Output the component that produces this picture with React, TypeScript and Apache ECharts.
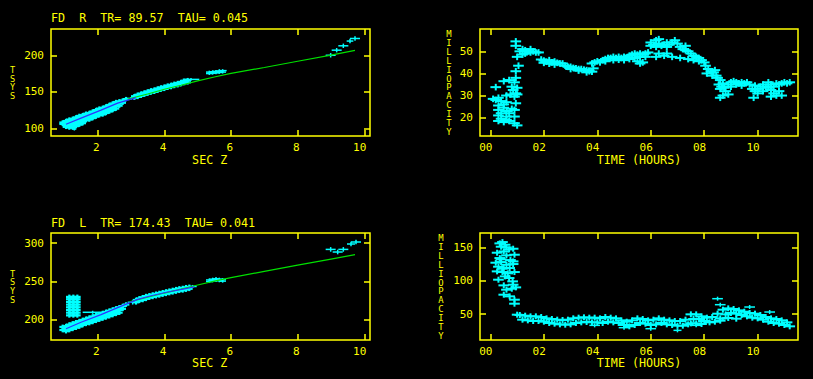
import React, { useEffect, useRef } from "react";
import * as echarts from "echarts";

const YELLOW = "#ffff00";
const CYAN = "#00ffff";
const GREEN = "#00e000";
const BLUE = "#3030ff";
const FONT = '"DejaVu Sans Mono", "Liberation Mono", monospace';

const titleR = "FD  R  TR= 89.57  TAU= 0.045";
const titleL = "FD  L  TR= 174.43  TAU= 0.041";
const xNameSec = "SEC Z";
const xNameTime = "TIME (HOURS)";
const yNameTsys = "TSYS";
const yNameOpac = "MILLIOPACITY";

const secZTicks = [2, 4, 6, 8, 10];
const timeTicks = [0, 2, 4, 6, 8, 10];
const tsysRTicks = [100, 150, 200];
const opacRTicks = [20, 30, 40, 50];
const tsysLTicks = [200, 250, 300];
const opacLTicks = [50, 100, 150];

// TSYS (R) vs SEC Z : dense band [secz, tsys]
const tsysRBand = [
  [0.95, 108], [0.95, 106],
  [1.05, 110], [1.05, 107], [1.05, 104], [1.05, 102],
  [1.15, 112], [1.15, 109], [1.15, 106], [1.15, 103], [1.15, 101],
  [1.25, 113], [1.25, 110], [1.25, 107], [1.25, 104], [1.25, 101],
  [1.35, 115], [1.35, 112], [1.35, 109], [1.35, 106], [1.35, 103],
  [1.45, 117], [1.45, 114], [1.45, 111], [1.45, 108], [1.45, 105],
  [1.55, 118], [1.55, 115], [1.55, 112], [1.55, 109], [1.55, 107],
  [1.65, 120], [1.65, 117], [1.65, 114], [1.65, 111],
  [1.75, 121], [1.75, 118], [1.75, 115], [1.75, 112],
  [1.85, 123], [1.85, 120], [1.85, 117], [1.85, 114],
  [1.95, 125], [1.95, 122], [1.95, 119], [1.95, 116],
  [2.05, 127], [2.05, 124], [2.05, 121], [2.05, 118],
  [2.15, 128], [2.15, 125], [2.15, 122], [2.15, 119],
  [2.25, 130], [2.25, 127], [2.25, 124], [2.25, 121],
  [2.35, 132], [2.35, 129], [2.35, 126], [2.35, 123],
  [2.45, 134], [2.45, 131], [2.45, 128], [2.45, 125],
  [2.55, 136], [2.55, 133], [2.55, 130], [2.55, 127],
  [2.65, 137], [2.65, 134], [2.65, 131],
  [2.75, 138], [2.75, 135], [2.85, 140],
  [3.1, 144], [3.1, 142], [3.2, 146], [3.2, 143], [3.3, 147.5], [3.3, 144.5],
  [3.4, 149], [3.4, 146], [3.5, 150.5], [3.5, 147.5], [3.6, 152], [3.6, 149],
  [3.7, 153], [3.7, 150], [3.8, 154.5], [3.8, 151.5], [3.9, 156], [3.9, 153],
  [4.0, 157], [4.0, 154], [4.1, 158.5], [4.1, 155.5], [4.2, 159.5], [4.2, 156.5],
  [4.3, 161], [4.3, 158], [4.4, 162], [4.4, 159], [4.5, 163.5], [4.5, 160.5],
  [4.6, 165], [4.6, 162], [4.7, 166], [4.7, 163],
];
const tsysRCross = [
  [1.3, 99, 0.06, 2], [3.0, 141, 0.15, 2], [4.8, 167, 0.25, 2],
  [5.35, 177, 0.1, 2], [5.35, 175, 0.1, 2], [5.45, 177.5, 0.1, 2], [5.45, 175.5, 0.1, 2],
  [5.55, 178, 0.1, 2], [5.55, 176, 0.1, 2], [5.65, 178.5, 0.12, 2.5], [5.65, 176.5, 0.1, 2],
  [5.75, 179, 0.12, 2], [5.75, 177, 0.1, 2],
  [8.99, 200, 0.15, 3], [9.17, 207, 0.15, 3], [9.37, 213, 0.15, 3],
  [9.57, 219.5, 0.1, 3], [9.72, 223, 0.15, 3],
];
const fitRGreen = [
  [2.9, 140], [3.5, 147], [4.0, 153.5], [4.5, 159], [5.0, 165], [5.5, 170.3],
  [6.0, 175.3], [7.0, 183.3], [8.0, 191.8], [9.0, 200.3], [9.72, 206.8],
];
const fitRBlue = [[1.05, 105.5], [1.5, 114], [2.1, 125], [2.6, 134.5], [3.15, 142]];

// TSYS (L) vs SEC Z
const tsysLBand = [
  [1.15, 206], [1.15, 209.5], [1.15, 213], [1.15, 216.5], [1.15, 220], [1.15, 223.5], [1.15, 227], [1.15, 230],
  [1.27, 206], [1.27, 209.5], [1.27, 213], [1.27, 216.5], [1.27, 220], [1.27, 223.5], [1.27, 227], [1.27, 230],
  [1.39, 206], [1.39, 209.5], [1.39, 213], [1.39, 216.5], [1.39, 220], [1.39, 223.5], [1.39, 227], [1.39, 230],
  [0.95, 191], [0.95, 187],
  [1.05, 192], [1.05, 188.5], [1.05, 185.5],
  [1.15, 194], [1.15, 190.5], [1.15, 187],
  [1.25, 195.5], [1.25, 192], [1.25, 188.5],
  [1.35, 197], [1.35, 193.5], [1.35, 190],
  [1.45, 198.5], [1.45, 195], [1.45, 191.5],
  [1.55, 200], [1.55, 196.5], [1.55, 193.5],
  [1.65, 201.5], [1.65, 198], [1.65, 195],
  [1.75, 203], [1.75, 199.5], [1.75, 196],
  [1.85, 204.5], [1.85, 201], [1.85, 197.5],
  [1.95, 206], [1.95, 202.5], [1.95, 199],
  [2.05, 207.5], [2.05, 204], [2.05, 200.5],
  [2.15, 209], [2.15, 205.5], [2.15, 202],
  [2.25, 210.5], [2.25, 207], [2.25, 203.5],
  [2.35, 212], [2.35, 208.5], [2.35, 205],
  [2.45, 213.5], [2.45, 210], [2.45, 206.5],
  [2.55, 215], [2.55, 211.5], [2.55, 208],
  [2.65, 216.5], [2.65, 213], [2.65, 209.5],
  [2.75, 218], [2.75, 214.5], [2.85, 220],
  [3.15, 226], [3.15, 223], [3.25, 228], [3.25, 225], [3.35, 229.5], [3.35, 226],
  [3.45, 231], [3.45, 227.5], [3.55, 232], [3.55, 229], [3.65, 233], [3.65, 230],
  [3.75, 234], [3.75, 231], [3.85, 235], [3.85, 232], [3.95, 236], [3.95, 233],
  [4.05, 237], [4.05, 234], [4.15, 238], [4.15, 235], [4.25, 239], [4.25, 236],
  [4.35, 240], [4.35, 237], [4.45, 241], [4.45, 238], [4.55, 241.5], [4.55, 238.5],
  [4.65, 242.5], [4.65, 239.5], [4.75, 243], [4.75, 240.5],
];
const tsysLCross = [
  [1.85, 210, 0.3, 2], [3.05, 223, 0.15, 3], [4.85, 243.5, 0.12, 2],
  [5.35, 252, 0.1, 2], [5.35, 250, 0.1, 2], [5.45, 253, 0.1, 2], [5.45, 251, 0.1, 2],
  [5.55, 253.5, 0.1, 2.5], [5.55, 251.5, 0.1, 2], [5.65, 253, 0.1, 2], [5.65, 251, 0.1, 2],
  [5.75, 252.5, 0.1, 2], [5.75, 250.5, 0.1, 2],
  [8.99, 291.7, 0.15, 3], [9.2, 288.3, 0.15, 3], [9.37, 291.7, 0.15, 3],
  [9.6, 298.7, 0.12, 3], [9.75, 301.3, 0.15, 3],
];
const fitLGreen = [
  [2.95, 223.5], [3.5, 229.5], [4.0, 235], [4.5, 240], [5.0, 245.5], [5.5, 250.5],
  [6.0, 255], [7.0, 263.2], [8.0, 271.2], [9.0, 279.1], [9.72, 284.8],
];
const fitLBlue = [
  [1.05, 188.7], [1.5, 197], [2.1, 207], [2.6, 216], [3.2, 226.8], [3.6, 231.5],
  [4.1, 236.4], [4.6, 240.5], [4.9, 243],
];

// Milliopacity (R) vs time
const opacR = [
  [0.2, 33.8], [0.5, 36.5], [0.7, 37], [0.95, 38], [0.9, 36], [0.8, 34], [0.85, 32.5],
  [0.95, 31], [0.75, 30.5], [0.9, 29.5], [1.0, 30.5], [0.6, 30], [0.3, 29], [0.1, 28.5],
  [0.2, 28], [0.4, 27.5], [0.6, 27], [0.5, 26], [0.3, 25.5], [0.5, 24.5], [0.8, 24],
  [0.3, 23.5], [0.6, 23], [0.9, 23.5], [0.4, 22], [0.7, 22], [0.3, 21], [0.6, 20.5],
  [0.9, 20.5], [0.4, 19.5], [0.6, 19], [0.3, 18.5], [0.5, 18], [0.7, 18.5], [0.9, 17.5],
  [1.0, 16.5], [0.95, 26.5], [1.0, 33.5], [0.95, 41], [1.05, 43.5], [0.95, 52.5],
  [0.95, 54.5], [1.0, 47.5],
  [1.1, 50], [1.2, 51], [1.3, 50.5], [1.4, 50], [1.5, 51], [1.6, 50], [1.7, 49.5],
  [1.8, 49.5], [1.3, 49], [1.5, 49.5], [1.2, 48.5],
  [1.9, 46.3], [2.0, 45.8], [2.1, 45.3], [2.2, 46], [2.3, 45], [2.4, 45.4], [2.5, 44.8],
  [2.6, 44.5], [2.0, 44.8], [2.2, 44.4], [2.4, 44], [2.7, 44.5],
  [2.8, 43.5], [2.9, 43], [3.0, 43], [3.1, 42.5], [3.2, 42.3], [3.3, 42], [3.4, 42],
  [3.5, 41.7], [3.6, 41.5], [3.7, 41], [3.8, 40.8], [3.85, 42.3], [3.0, 42], [3.3, 41.3],
  [3.6, 40.5],
  [3.8, 44.5], [3.9, 45], [4.0, 45.5], [4.1, 45], [4.2, 46], [4.3, 46.5], [4.4, 47],
  [4.5, 47], [4.6, 47.5], [4.7, 47], [4.8, 47.5], [4.9, 47], [5.0, 47.5], [5.1, 47.2],
  [5.2, 48], [5.3, 48.5], [5.4, 49], [5.5, 48.5], [5.6, 49], [5.7, 48.5], [5.8, 49],
  [5.9, 49.5], [4.3, 45.5], [4.6, 46], [5.0, 46], [5.4, 47], [5.8, 47.5], [5.7, 45],
  [5.6, 44.5], [5.5, 45.5], [4.8, 46.2], [5.2, 46.5], [5.6, 47.5],
  [6.0, 54], [6.1, 53], [6.2, 55], [6.3, 53.5], [6.4, 52.5], [6.5, 53], [6.6, 52],
  [6.7, 53], [6.8, 54], [6.9, 55], [7.0, 53.5], [7.1, 52], [6.2, 52], [6.6, 54],
  [6.3, 55.5], [6.0, 52.5],
  [6.2, 47.5], [6.5, 48], [6.8, 47.5], [7.1, 47], [6.3, 49], [6.6, 49],
  [7.2, 51], [7.3, 50.5], [7.4, 50], [7.5, 49], [7.6, 48], [7.7, 47.5], [7.8, 47],
  [7.9, 46], [8.0, 45], [7.4, 46.5], [7.6, 46], [7.8, 45.5], [7.3, 52.5],
  [8.05, 43.5], [8.15, 42], [8.25, 41], [8.35, 40.5], [8.45, 39], [8.5, 38], [8.1, 40],
  [8.3, 39], [8.6, 37], [8.4, 41.5],
  [8.55, 35], [8.65, 34], [8.75, 33.5], [8.7, 35.5], [8.6, 33], [8.7, 30], [8.9, 30.5],
  [8.6, 29], [8.8, 32],
  [8.9, 35], [9.0, 36], [9.1, 36.5], [9.2, 36], [9.3, 35.5], [9.4, 36], [9.5, 35.5],
  [9.6, 36], [9.7, 35], [9.0, 34], [9.4, 34.5], [9.2, 35],
  [9.8, 33], [9.9, 32], [10.0, 33], [10.1, 34], [10.2, 35], [10.3, 34], [10.4, 33.5],
  [10.5, 35], [10.6, 34], [10.7, 35.5], [10.8, 35], [10.9, 35.5], [11.0, 36],
  [11.1, 35.5], [11.2, 36], [9.9, 34.5], [10.2, 32], [10.5, 32.5], [10.8, 32],
  [10.6, 31], [10.0, 31], [10.4, 36], [10.7, 30], [9.85, 29], [10.5, 29.5], [10.9, 30],
];

// Milliopacity (L) vs time
const opacL = [
  [0.35, 156], [0.45, 158], [0.55, 154], [0.4, 151], [0.6, 150], [0.7, 147], [0.85, 148],
  [0.25, 142], [0.5, 144], [0.35, 134], [0.6, 138], [0.9, 139], [0.2, 127], [0.4, 128],
  [0.6, 124], [0.3, 121], [0.5, 119], [0.72, 119], [0.85, 125], [0.25, 114], [0.45, 113],
  [0.65, 111], [0.9, 113], [0.3, 101.5], [0.55, 106.5], [0.83, 99], [0.5, 93], [0.85, 94],
  [0.6, 86.5], [0.8, 88], [0.95, 90], [0.5, 79], [0.72, 76.5], [0.9, 71.5], [0.9, 65.5],
  [0.4, 132], [0.75, 131], [0.85, 129], [0.45, 118], [0.7, 104], [1.0, 49],
  [1.1, 48.5], [1.2, 41.5], [1.3, 47.5], [1.4, 40.5], [1.5, 46.5], [1.6, 39.5],
  [1.7, 46.5], [1.8, 39.5], [1.9, 45.5], [2.0, 38.5], [2.1, 43.5], [2.2, 36.5],
  [2.3, 42.5], [2.4, 35.5], [2.5, 41.5], [2.6, 34.5], [2.7, 41], [2.8, 34],
  [2.9, 41.5], [3.0, 34.5], [3.1, 43.5], [3.2, 36.5], [3.3, 44.5], [3.4, 37.5],
  [3.5, 45], [3.6, 38], [3.7, 44.5], [3.8, 37.5], [3.9, 44.5], [4.0, 37.5],
  [4.1, 43.5], [4.2, 36.5], [4.3, 45.5], [4.4, 38.5], [4.5, 44.5], [4.6, 37.5],
  [4.7, 43.5], [4.8, 36.5], [4.9, 40.5], [5.0, 33.5], [5.1, 38.5], [5.2, 31.5],
  [5.3, 40.5], [5.4, 33.5], [5.5, 43.5], [5.6, 36.5], [5.7, 42.5], [5.8, 35.5],
  [5.9, 40.5], [6.0, 33.5], [6.1, 41.5], [6.2, 34.5], [6.3, 43.5], [6.4, 36.5],
  [6.5, 41.5], [6.6, 34.5], [6.7, 40.5], [6.8, 33.5], [6.9, 39.5], [7.0, 32.5],
  [7.1, 39.5], [7.2, 32.5], [7.3, 41.5], [7.4, 34.5], [7.5, 49.5], [7.6, 42.5],
  [7.7, 49.5], [7.8, 42.5], [7.9, 46.5], [8.0, 39.5], [8.1, 44.5], [8.2, 37.5],
  [8.3, 45.5], [8.4, 38.5], [8.5, 50.5], [8.6, 43.5], [8.7, 56.5], [8.8, 49.5],
  [8.9, 58.5], [9.0, 51.5], [9.1, 57.5], [9.2, 50.5], [9.3, 55.5], [9.4, 48.5],
  [9.5, 53.5], [9.6, 46.5], [9.7, 51.5], [9.8, 44.5], [9.9, 50.5], [10.0, 43.5],
  [10.1, 48.5], [10.2, 41.5], [10.3, 45.5], [10.4, 38.5], [10.5, 43.5], [10.6, 36.5],
  [10.7, 42.5], [10.8, 35.5], [10.9, 40.5], [11.0, 33.5], [11.1, 37.5], [11.2, 31.5],
  [7.5, 36], [7.7, 36], [7.9, 35], [8.6, 40], [8.9, 44], [9.2, 43],
];
const opacLCross = [
  [8.5, 73, 0.2, 3], [8.6, 64, 0.2, 3], [9.7, 60.5, 0.2, 3], [10.45, 53, 0.2, 3],
  [6.0, 28, 0.2, 3], [7.0, 25.5, 0.15, 3], [7.7, 33, 0.2, 3], [8.7, 43, 0.2, 3],
  [3.9, 33, 0.2, 3], [5.0, 29.5, 0.2, 3],
];

const withErr = (pts: number[][], dx: number, dy: number) =>
  pts.map((p) => (p.length >= 4 ? p : [p[0], p[1], dx, dy]));

const makeCrossRender = (lineWidth: number) => (params: any, api: any) => {
  const x = api.value(0);
  const y = api.value(1);
  const dx = api.value(2);
  const dy = api.value(3);
  const a = api.coord([x - dx, y]);
  const b = api.coord([x + dx, y]);
  const c = api.coord([x, y - dy]);
  const d = api.coord([x, y + dy]);
  const style = { stroke: CYAN, lineWidth, fill: null };
  return {
    type: "group",
    children: [
      { type: "line", shape: { x1: a[0], y1: a[1], x2: b[0], y2: b[1] }, style },
      { type: "line", shape: { x1: c[0], y1: c[1], x2: d[0], y2: d[1] }, style },
    ],
  };
};

const tickStyle = { color: YELLOW, width: 1.5 };

function xAxes(g: number, min: number, max: number, ticks: number[], fmt: (v: number) => string) {
  return [
    {
      type: "value", gridIndex: g, min, max, position: "bottom",
      axisLine: { show: false, onZero: false }, splitLine: { show: false },
      axisTick: { show: true, inside: true, length: 6, customValues: ticks, lineStyle: tickStyle },
      axisLabel: {
        show: true, customValues: ticks, color: YELLOW, fontFamily: FONT, fontSize: 11,
        margin: 5.5, align: "right", padding: [0, -2, 0, 0], formatter: fmt,
      },
    },
    {
      type: "value", gridIndex: g, min, max, position: "top",
      axisLine: { show: false, onZero: false }, splitLine: { show: false },
      axisTick: { show: true, inside: true, length: 6, customValues: ticks, lineStyle: tickStyle },
      axisLabel: { show: false },
    },
  ];
}
function yAxes(g: number, min: number, max: number, ticks: number[]) {
  return [
    {
      type: "value", gridIndex: g, min, max, position: "left",
      axisLine: { show: false, onZero: false }, splitLine: { show: false },
      axisTick: { show: true, inside: true, length: 6, customValues: ticks, lineStyle: tickStyle },
      axisLabel: {
        show: true, customValues: ticks, color: YELLOW, fontFamily: FONT, fontSize: 11, margin: 7,
      },
    },
    {
      type: "value", gridIndex: g, min, max, position: "right",
      axisLine: { show: false, onZero: false }, splitLine: { show: false },
      axisTick: { show: true, inside: true, length: 6, customValues: ticks, lineStyle: tickStyle },
      axisLabel: { show: false },
    },
  ];
}

const txt = (x: number, y: number, text: string, align: string, size: number, lh?: number) => ({
  type: "text",
  x,
  y,
  style: {
    text,
    fill: YELLOW,
    fontFamily: FONT,
    fontSize: size,
    align,
    verticalAlign: "middle",
    lineHeight: lh,
  },
});

export default function App() {
  const ref = useRef<HTMLDivElement>(null);
  useEffect(() => {
    if (!ref.current) return;
    const chart = echarts.init(ref.current, null, { renderer: "svg" });
    const secFmt = (v: number) => String(v);
    const timeFmt = (v: number) => String(v).padStart(2, "0");
    const gridBase = { show: true, borderColor: YELLOW, borderWidth: 1.5, backgroundColor: "transparent" };
    const cross = (xi: number, data: number[][], lw: number) => ({
      type: "custom", xAxisIndex: xi, yAxisIndex: xi, data, renderItem: makeCrossRender(lw),
      encode: { x: 0, y: 1 }, silent: true, z: 2,
    });
    const line = (xi: number, data: number[][], color: string, z: number) => ({
      type: "line", xAxisIndex: xi, yAxisIndex: xi, data, showSymbol: false, symbol: "none",
      lineStyle: { color, width: 1.2 }, silent: true, z,
    });
    chart.setOption({
      animation: false,
      backgroundColor: "#000000",
      grid: [
        { ...gridBase, left: 51, top: 29, width: 319, height: 107 },
        { ...gridBase, left: 480, top: 29, width: 318, height: 107 },
        { ...gridBase, left: 51, top: 233, width: 319, height: 107 },
        { ...gridBase, left: 480, top: 233, width: 318, height: 107 },
      ],
      xAxis: [
        ...xAxes(0, 0.6, 10.17, secZTicks, secFmt),
        ...xAxes(1, -0.39, 11.51, timeTicks, timeFmt),
        ...xAxes(2, 0.6, 10.17, secZTicks, secFmt),
        ...xAxes(3, -0.39, 11.51, timeTicks, timeFmt),
      ],
      yAxis: [
        ...yAxes(0, 89.5, 236, tsysRTicks),
        ...yAxes(1, 11.7, 60.1, opacRTicks),
        ...yAxes(2, 174, 313, tsysLTicks),
        ...yAxes(3, 11, 171.6, opacLTicks),
      ],
      series: [
        cross(0, withErr(tsysRBand, 0.1, 3), 2.2),
        cross(0, tsysRCross, 1.5),
        line(0, fitRGreen, GREEN, 3),
        line(0, fitRBlue, BLUE, 4),
        cross(2, withErr(opacR, 0.2, 1.5), 2),
        cross(4, withErr(tsysLBand, 0.1, 3), 2.2),
        cross(4, tsysLCross, 1.5),
        line(4, fitLGreen, GREEN, 3),
        line(4, fitLBlue, BLUE, 4),
        cross(6, withErr(opacL, 0.2, 4.5), 2),
        cross(6, opacLCross, 1.5),
      ],
      graphic: [
        txt(51, 18.3, titleR, "left", 11.7),
        txt(51, 222.8, titleL, "left", 11.7),
        txt(209.7, 159.5, xNameSec, "center", 11.7),
        txt(209.7, 363.3, xNameSec, "center", 11.7),
        txt(639, 159.5, xNameTime, "center", 11.7),
        txt(639, 363.3, xNameTime, "center", 11.7),
        txt(12.5, 83, yNameTsys.split("").join("\n"), "center", 8.6, 8.6),
        txt(12.5, 286.7, yNameTsys.split("").join("\n"), "center", 8.6, 8.6),
        txt(448.8, 83, yNameOpac.split("").join("\n"), "center", 8.9, 8.9),
        txt(441, 287, yNameOpac.split("").join("\n"), "center", 8.9, 8.9),
      ],
    });
    return () => chart.dispose();
  }, []);
  return (
    <div
      ref={ref}
      style={{ position: "fixed", left: 0, top: 0, width: 813, height: 379, background: "#000" }}
    />
  );
}
